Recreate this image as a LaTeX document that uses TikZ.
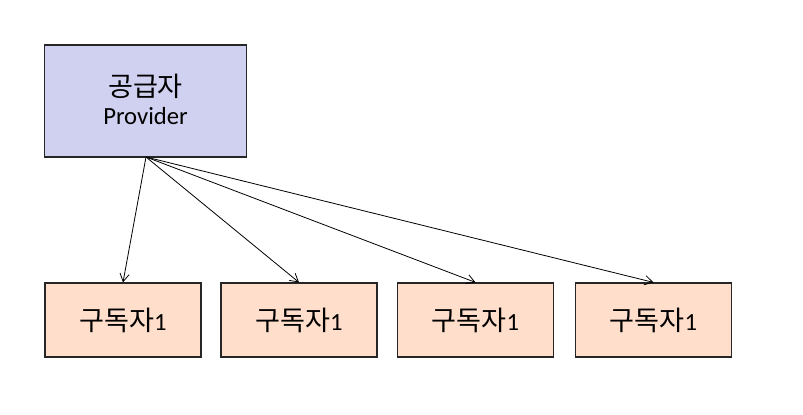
\documentclass[tikz,border=0pt]{standalone}
\usepackage{fontspec}
\setmainfont{Carlito}
\newfontfamily\kor{Noto Sans CJK KR}[Scale=1.1]
\usetikzlibrary{arrows.meta}
\definecolor{provfill}{HTML}{D0D0F0}
\definecolor{subfill}{HTML}{FFDECB}
\begin{document}
\begin{tikzpicture}[x=0.75pt,y=-0.75pt,
  box/.style={draw=black!85,line width=0.9pt,inner sep=0pt,font=\fontsize{18.5}{22}\selectfont},
  provbox/.style={box,fill=provfill,minimum width=151pt,minimum height=84pt,align=center},
  subbox/.style={box,fill=subfill,minimum width=117pt,minimum height=55.5pt},
  link/.style={-{Straight Barb[length=6pt,width=7pt,line width=0.6pt]},line width=0.6pt}]
\useasboundingbox (0,0) rectangle (803,414);
\node[provbox] (p) at (145.5,101) {};
\node[align=center,inner sep=0pt,font=\fontsize{18.5}{22}\selectfont] (pt) at (145.5,99) {{\kor 공급자}\\[-1pt]Provider};
\node[subbox] (s1) at (123,320) {{\kor 구독자}1};
\node[subbox] (s2) at (299,320) {{\kor 구독자}1};
\node[subbox] (s3) at (475.5,320) {{\kor 구독자}1};
\node[subbox] (s4) at (653.5,320) {{\kor 구독자}1};
\coordinate (o) at (146,157);
\draw[link] (o) -- (s1.north);
\draw[link] (o) -- (s2.north);
\draw[link] (o) -- (s3.north);
\draw[link] (o) -- (s4.north);
\end{tikzpicture}
\end{document}
